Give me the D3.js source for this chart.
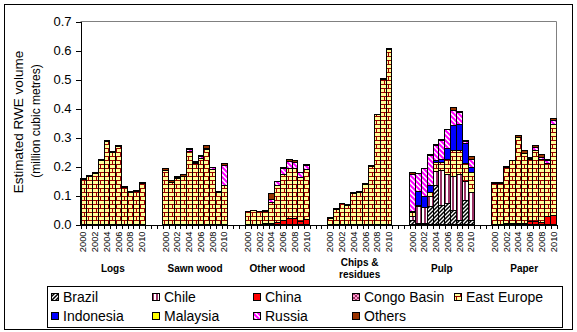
<!DOCTYPE html>
<html><head><meta charset="utf-8">
<script src="https://cdn.jsdelivr.net/npm/d3@7/dist/d3.min.js"></script>
<style>
html,body{margin:0;padding:0;background:#fff;}
svg{display:block;font-family:Arial,"Liberation Sans",sans-serif;}
</style></head>
<body><svg id="c" width="577" height="332"></svg>
<script>
// ---- data ----
const years = [2000,2001,2002,2003,2004,2005,2006,2007,2008,2009,2010];
const products = ["Logs","Sawn wood","Other wood","Chips & residues","Pulp","Paper"];
const seriesNames = ["Brazil","Chile","China","Congo Basin","East Europe","Indonesia","Malaysia","Russia","Others"];
const yTicks = [0,0.1,0.2,0.3,0.4,0.5,0.6,0.7];
const z11 = [0,0,0,0,0,0,0,0,0,0,0];

// each series: Logs, Sawn wood, Other wood, Chips & residues, Pulp, Paper (2000-2010)
const brazil = [].concat(z11, z11, z11, z11,
  [0.015,0.003,0.003,0.061,0.136,0.064,0.073,0.050,0.015,0.084,0.015], z11);
const chile = [].concat(z11, z11, z11, z11,
  [0.012,0.058,0.055,0.037,0.046,0.122,0.098,0.117,0.156,0.064,0.094], z11);
const china = [].concat(z11, z11,
  [0,0,0,0.002,0.003,0.008,0.013,0.020,0.020,0.012,0.017], z11, z11,
  [0,0,0.002,0.002,0.003,0.005,0.010,0.010,0.007,0.027,0.032]);
const congoBasin = [].concat(z11, z11, z11, z11, z11, z11);
const eastEurope = [].concat(
  [0.154,0.167,0.177,0.221,0.285,0.248,0.270,0.127,0.112,0.114,0.143],
  [0.187,0.145,0.158,0.166,0.253,0.209,0.229,0.258,0.190,0.110,0.133],
  [0.044,0.048,0.044,0.044,0.072,0.126,0.159,0.174,0.173,0.151,0.171],
  [0.022,0.052,0.071,0.067,0.106,0.111,0.137,0.200,0.378,0.500,0.604],
  [0.015,0.006,0.002,0.013,0.032,0.029,0.052,0.087,0.084,0.064,0.069],
  [0.141,0.141,0.195,0.217,0.298,0.240,0.214,0.244,0.216,0.182,0.313]);
const indonesia = [].concat(z11, z11, z11, z11,
  [0.004,0.048,0.035,0.023,0.005,0.008,0.040,0.087,0.089,0.067,0.017], z11);
const malaysia = [].concat(z11, z11, z11, z11, z11, z11);
const russia = [].concat(z11,
  [0,0,0.005,0,0.006,0.005,0.005,0.004,0.005,0.003,0.072],
  [0,0,0,0,0.012,0.014,0.020,0.024,0.021,0.016,0.017],
  z11,
  [0.125,0.060,0.097,0.105,0.052,0.067,0.064,0.052,0.043,0.008,0.029],
  [0,0,0,0,0,0,0.005,0.013,0.009,0.011,0.013]);
const others = [].concat(
  [0.003,0.003,0.003,0.003,0.003,0.003,0.003,0.003,0.003,0.003,0.003],
  [0.006,0.007,0.002,0.006,0.004,0.003,0.003,0.010,0.002,0.002,0.005],
  [0.002,0.002,0.002,0.002,0.019,0.002,0.003,0.005,0.005,0.002,0.003],
  [0.003,0.003,0.003,0.003,0.003,0.003,0.003,0.003,0.003,0.003,0.003],
  [0.010,0.002,0.002,0.004,0.004,0.003,0.002,0.012,0.003,0.001,0.009],
  [0.003,0.003,0.003,0.003,0.006,0.009,0.003,0.004,0.010,0.003,0.007]);
const seriesValues = [brazil, chile, china, congoBasin, eastEurope, indonesia, malaysia, russia, others];

// ---- layout ----
const svg = d3.select("#c");
const X0 = 80.5, X1 = 556.5, Y0 = 21.5, Y1 = 224.5;
const GAP = 3, NY = years.length, NSLOT = products.length*NY + (products.length-1)*GAP;
const x = d3.scaleLinear().domain([0, NSLOT]).range([X0, X1]);
const y = d3.scaleLinear().domain([0, 0.7]).range([Y1, Y0]);

// patterns
const defs = svg.append("defs");
function pat(id, w, h){ return defs.append("pattern").attr("id", id).attr("patternUnits","userSpaceOnUse").attr("width", w).attr("height", h); }
let p = pat("pBrazil", 4, 4);
p.append("rect").attr("width",4).attr("height",4).attr("fill","#fff");
p.append("path").attr("d","M-1,1 L1,-1 M0,4 L4,0 M3,5 L5,3").attr("stroke","#000").attr("stroke-width",1.5);
p = pat("pChile", 4, 4);
p.append("rect").attr("width",4).attr("height",4).attr("fill","#fff");
p.append("rect").attr("width",2).attr("height",4).attr("fill","#993366");
p = pat("pCongo", 4, 4);
p.append("rect").attr("width",4).attr("height",4).attr("fill","#FF99CC");
p.append("path").attr("d","M0,0 L4,4 M4,0 L0,4").attr("stroke","#993366").attr("stroke-width",1);
p = pat("pBrick", 8, 8);
p.append("rect").attr("width",8).attr("height",8).attr("fill","#FFFF99");
p.append("rect").attr("x",0).attr("y",0).attr("width",8).attr("height",1).attr("fill","#990000");
p.append("rect").attr("x",0).attr("y",4).attr("width",8).attr("height",1).attr("fill","#990000");
p.append("rect").attr("x",0).attr("y",0).attr("width",1).attr("height",4).attr("fill","#990000");
p.append("rect").attr("x",4).attr("y",4).attr("width",1).attr("height",4).attr("fill","#990000");
p = pat("pRussia", 5, 5);
p.append("rect").attr("width",5).attr("height",5).attr("fill","#fff");
p.append("path").attr("d","M0,0 L5,5 M-1,4 L1,6 M4,-1 L6,1").attr("stroke","#FF00FF").attr("stroke-width",2);

const fills = ["url(#pBrazil)","url(#pChile)","#FF0000","url(#pCongo)","url(#pBrick)","#0000FF","#FFFF00","url(#pRussia)","#993300"];

// outer frame
svg.append("rect").attr("x",4.5).attr("y",4.5).attr("width",568).attr("height",325)
  .attr("fill","#fff").attr("stroke","#000").attr("stroke-width",1);

// plot border (grey top & right)
svg.append("path").attr("d",`M${X0},${Y0}H${X1}V${Y1}`).attr("fill","none").attr("stroke","#808080").attr("stroke-width",1);

// data table & stack
const rows = [];
products.forEach((prod, pi) => {
  years.forEach((yr, yi) => {
    const idx = pi*NY + yi;
    const r = {slot: pi*(NY+GAP) + yi};
    seriesNames.forEach((s, si) => r[s] = seriesValues[si][idx]);
    rows.push(r);
  });
});
const stacked = d3.stack().keys(seriesNames)(rows);

const gBars = svg.append("g").attr("shape-rendering","crispEdges");
stacked.forEach((layer, si) => {
  gBars.selectAll(null).data(layer.filter(d => d[1]-d[0] > 0)).join("rect")
    .attr("x", d => x(d.data.slot))
    .attr("width", d => x(d.data.slot+1) - x(d.data.slot))
    .attr("y", d => y(d[1]))
    .attr("height", d => y(d[0]) - y(d[1]))
    .attr("fill", fills[si])
    .attr("stroke","#000").attr("stroke-width",1);
});

// y axis
const yAxis = svg.append("g").attr("transform",`translate(${X0},0)`)
  .call(d3.axisLeft(y).tickValues(yTicks).tickFormat(d3.format(".1f")).tickSize(5).tickSizeOuter(0).tickPadding(4));
yAxis.selectAll("text").attr("font-size",13).attr("fill","#000").attr("font-family","Arial, 'Liberation Sans', sans-serif");
yAxis.selectAll("line,path").attr("stroke","#000").attr("shape-rendering","crispEdges");

// x axis
const xAxis = svg.append("g").attr("transform",`translate(0,${Y1})`)
  .call(d3.axisBottom(x).tickValues(d3.range(0, NSLOT+1)).tickFormat("").tickSize(4).tickSizeOuter(0));
xAxis.selectAll("line,path").attr("stroke","#000").attr("shape-rendering","crispEdges");

// year labels
const yearLabels = [];
products.forEach((prod, pi) => years.forEach((yr, yi) => { if (yi % 2 === 0) yearLabels.push({slot: pi*(NY+GAP)+yi, t: String(yr)}); }));
svg.append("g").selectAll("text").data(yearLabels).join("text")
  .attr("transform", d => `translate(${(x(d.slot)+x(d.slot+1))/2},231.5) rotate(-90)`)
  .attr("text-anchor","end").attr("dominant-baseline","central")
  .attr("font-size",9.3).attr("fill","#000").text(d => d.t);

// product labels
products.forEach((prod, pi) => {
  const cx = (x(pi*(NY+GAP)) + x(pi*(NY+GAP)+NY))/2;
  const lines = prod === "Chips & residues" ? ["Chips &","residues"] : [prod];
  const y0 = lines.length === 1 ? 268 : 262;
  lines.forEach((ln, li) => {
    svg.append("text").attr("x",cx).attr("y",y0 + li*12).attr("text-anchor","middle")
      .attr("dominant-baseline","central").attr("font-size",10).attr("font-weight","bold").text(ln);
  });
});

// y title
svg.append("text").attr("transform","translate(18.5,122) rotate(-90)").attr("text-anchor","middle")
  .attr("dominant-baseline","central").attr("font-size",13.5).text("Estimated RWE volume");
svg.append("text").attr("transform","translate(36,121) rotate(-90)").attr("text-anchor","middle")
  .attr("dominant-baseline","central").attr("font-size",12).text("(million cubic metres)");

// legend
svg.append("rect").attr("x",47.5).attr("y",286.5).attr("width",515).attr("height",41)
  .attr("fill","#fff").attr("stroke","#000").attr("stroke-width",1);
const legX = [63,164,265,364,466];
const legY = [296.5,316];
const legItems = seriesNames.map((s, i) => ({name: s, fill: fills[i], col: i < 5 ? i : i-5, row: i < 5 ? 0 : 1}));
const lg = svg.append("g").selectAll("g").data(legItems).join("g");
lg.append("rect").attr("x", d => legX[d.col]-11.5).attr("y", d => legY[d.row]-3.5).attr("width",7).attr("height",7)
  .attr("fill", d => d.fill).attr("stroke","#000").attr("stroke-width",1).attr("shape-rendering","crispEdges");
lg.append("text").attr("x", d => legX[d.col]).attr("y", d => legY[d.row]).attr("dominant-baseline","central")
  .attr("font-size",14).text(d => d.name);
</script>
</body></html>
